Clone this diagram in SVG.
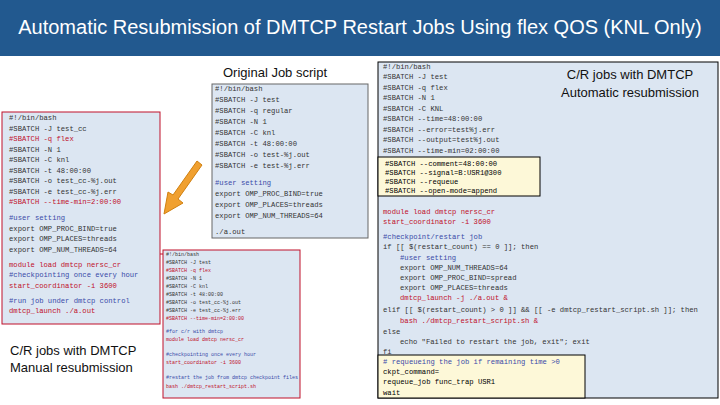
<svg xmlns="http://www.w3.org/2000/svg" width="720" height="405" viewBox="0 0 720 405">
<style>
.c{font-family:"Liberation Mono",monospace;font-size:7.2px;fill:#333}
.r{fill:#c0102a}
.b{fill:#3a4aa8}
.s{font-family:"Liberation Sans",Arial,sans-serif;font-size:13px;fill:#111}
.box{fill:#dce6f2}
.y{fill:#fdf8d8;stroke:#000;stroke-width:1}
</style>
<rect width="720" height="405" fill="#fff"/>
<rect width="720" height="56" fill="#22598f"/>
<text x="360" y="34" text-anchor="middle" font-family="Liberation Sans,Arial,sans-serif" font-size="20" fill="#fff">Automatic Resubmission of DMTCP Restart Jobs Using flex QOS (KNL Only)</text>
<g id="connectors">
<polyline points="160,254 166,254 166,250" fill="none" stroke="#c0102a" stroke-width="1"/>
<path d="M202,165 L178,199 L183,203 L164,214 L168,192 L173,195 L197,161 Z" fill="#f0a030" stroke="#d08010" stroke-width="1"/>
</g>
<g id="original">
<text class="s" x="275" y="77" text-anchor="middle">Original Job script</text>
<rect class="box" x="212" y="84" width="156" height="154" stroke="#666" stroke-width="1"/>
<text class="c" x="215" y="91">#!/bin/bash</text>
<text class="c" x="215" y="102">#SBATCH -J test</text>
<text class="c" x="215" y="113">#SBATCH -q regular</text>
<text class="c" x="215" y="124">#SBATCH -N 1</text>
<text class="c" x="215" y="135">#SBATCH -C knl</text>
<text class="c" x="215" y="146">#SBATCH -t 48:00:00</text>
<text class="c" x="215" y="157">#SBATCH -o test-%j.out</text>
<text class="c" x="215" y="168">#SBATCH -e test-%j.err</text>
<text class="c b" x="215" y="185">#user setting</text>
<text class="c" x="215" y="196">export OMP_PROC_BIND=true</text>
<text class="c" x="215" y="207">export OMP_PLACES=threads</text>
<text class="c" x="215" y="218">export OMP_NUM_THREADS=64</text>
<text class="c" x="215" y="234">./a.out</text>
</g>
<g id="manual">
<rect class="box" x="2" y="112" width="158" height="212" stroke="#c0102a" stroke-width="1"/>
<text class="c" x="9" y="120">#!/bin/bash</text>
<text class="c" x="9" y="131">#SBATCH -J test_cc</text>
<text class="c r" x="9" y="141">#SBATCH -q flex</text>
<text class="c" x="9" y="152">#SBATCH -N 1</text>
<text class="c" x="9" y="162">#SBATCH -C knl</text>
<text class="c" x="9" y="173">#SBATCH -t 48:00:00</text>
<text class="c" x="9" y="183">#SBATCH -o test_cc-%j.out</text>
<text class="c" x="9" y="194">#SBATCH -e test_cc-%j.err</text>
<text class="c r" x="9" y="204">#SBATCH --time-min=2:00:00</text>
<text class="c b" x="9" y="220">#user setting</text>
<text class="c" x="9" y="231">export OMP_PROC_BIND=true</text>
<text class="c" x="9" y="241">export OMP_PLACES=threads</text>
<text class="c" x="9" y="252">export OMP_NUM_THREADS=64</text>
<text class="c r" x="9" y="267">module load dmtcp nersc_cr</text>
<text class="c b" x="9" y="277">#checkpointing once every hour</text>
<text class="c r" x="9" y="288">start_coordinator -i 3600</text>
<text class="c b" x="9" y="303">#run job under dmtcp control</text>
<text class="c r" x="9" y="313">dmtcp_launch ./a.out</text>
<text class="s" x="10" y="355">C/R jobs with DMTCP</text>
<text class="s" x="10" y="372">Manual resubmission</text>
</g>
<g id="restart" style="font-size:5px">
<rect class="box" x="163" y="250" width="137" height="148" stroke="#c0102a" stroke-width="1"/>
<text class="c" x="166" y="256" style="font-size:5px">#!/bin/bash</text>
<text class="c" x="166" y="264" style="font-size:5px">#SBATCH -J test</text>
<text class="c r" x="166" y="272" style="font-size:5px">#SBATCH -q flex</text>
<text class="c" x="166" y="280" style="font-size:5px">#SBATCH -N 1</text>
<text class="c" x="166" y="288" style="font-size:5px">#SBATCH -C knl</text>
<text class="c" x="166" y="296" style="font-size:5px">#SBATCH -t 48:00:00</text>
<text class="c" x="166" y="304" style="font-size:5px">#SBATCH -o test_cc-%j.out</text>
<text class="c" x="166" y="312" style="font-size:5px">#SBATCH -e test_cc-%j.err</text>
<text class="c r" x="166" y="320" style="font-size:5px">#SBATCH --time-min=2:00:00</text>
<text class="c b" x="166" y="333" style="font-size:5px">#for c/r with dmtcp</text>
<text class="c r" x="166" y="341" style="font-size:5px">module load dmtcp nersc_cr</text>
<text class="c b" x="166" y="356" style="font-size:5px">#checkpointing once every hour</text>
<text class="c r" x="166" y="364" style="font-size:5px">start_coordinator -i 3600</text>
<text class="c b" x="166" y="379" style="font-size:5px">#restart the job from dmtcp checkpoint files</text>
<text class="c r" x="166" y="388" style="font-size:5px">bash ./dmtcp_restart_script.sh</text>
</g>
<g id="auto">
<rect class="box" x="378" y="62" width="340" height="336" stroke="#000" stroke-width="1"/>
<text class="s" x="630" y="79" text-anchor="middle">C/R jobs with DMTCP</text>
<text class="s" x="630" y="97" text-anchor="middle">Automatic resubmission</text>
<text class="c" x="383" y="69">#!/bin/bash</text>
<text class="c" x="383" y="79">#SBATCH -J test</text>
<text class="c" x="383" y="90">#SBATCH -q flex</text>
<text class="c" x="383" y="100">#SBATCH -N 1</text>
<text class="c" x="383" y="111">#SBATCH -C KNL</text>
<text class="c" x="383" y="121">#SBATCH --time=48:00:00</text>
<text class="c" x="383" y="132">#SBATCH --error=test%j.err</text>
<text class="c" x="383" y="142">#SBATCH --output=test%j.out</text>
<text class="c" x="383" y="153">#SBATCH --time-min=02:00:00</text>
<rect class="y" x="378" y="157" width="162" height="39"/>
<text class="c" x="385" y="166" style="fill:#000">#SBATCH --comment=48:00:00</text>
<text class="c" x="385" y="175" style="fill:#000">#SBATCH --signal=B:USR1@300</text>
<text class="c" x="385" y="184" style="fill:#000">#SBATCH --requeue</text>
<text class="c" x="385" y="193" style="fill:#000">#SBATCH --open-mode=append</text>
<text class="c r" x="383" y="214">module load dmtcp nersc_cr</text>
<text class="c r" x="383" y="224">start_coordinator -i 3600</text>
<text class="c b" x="383" y="239">#checkpoint/restart job</text>
<text class="c" x="383" y="249">if [[ $(restart_count) == 0 ]]; then</text>
<text class="c b" x="400" y="260">#user setting</text>
<text class="c" x="400" y="270">export OMP_NUM_THREADS=64</text>
<text class="c" x="400" y="280">export OMP_PROC_BIND=spread</text>
<text class="c" x="400" y="290">export OMP_PLACES=threads</text>
<text class="c r" x="400" y="300">dmtcp_launch -j ./a.out &amp;</text>
<text class="c" x="383" y="312">elif [[ $(restart_count) &gt; 0 ]] &amp;&amp; [[ -e dmtcp_restart_script.sh ]]; then</text>
<text class="c r" x="400" y="323">bash ./dmtcp_restart_script.sh &amp;</text>
<text class="c" x="383" y="334">else</text>
<text class="c" x="400" y="344">echo "Failed to restart the job, exit"; exit</text>
<text class="c" x="383" y="354">fi</text>
<rect class="y" x="378" y="355" width="207" height="43"/>
<text class="c b" x="383" y="364"># requeueing the job if remaining time &gt;0</text>
<text class="c" x="383" y="374" style="fill:#000">ckpt_command=</text>
<text class="c" x="383" y="384" style="fill:#000">requeue_job func_trap USR1</text>
<text class="c" x="383" y="395" style="fill:#000">wait</text>
</g>
</svg>
